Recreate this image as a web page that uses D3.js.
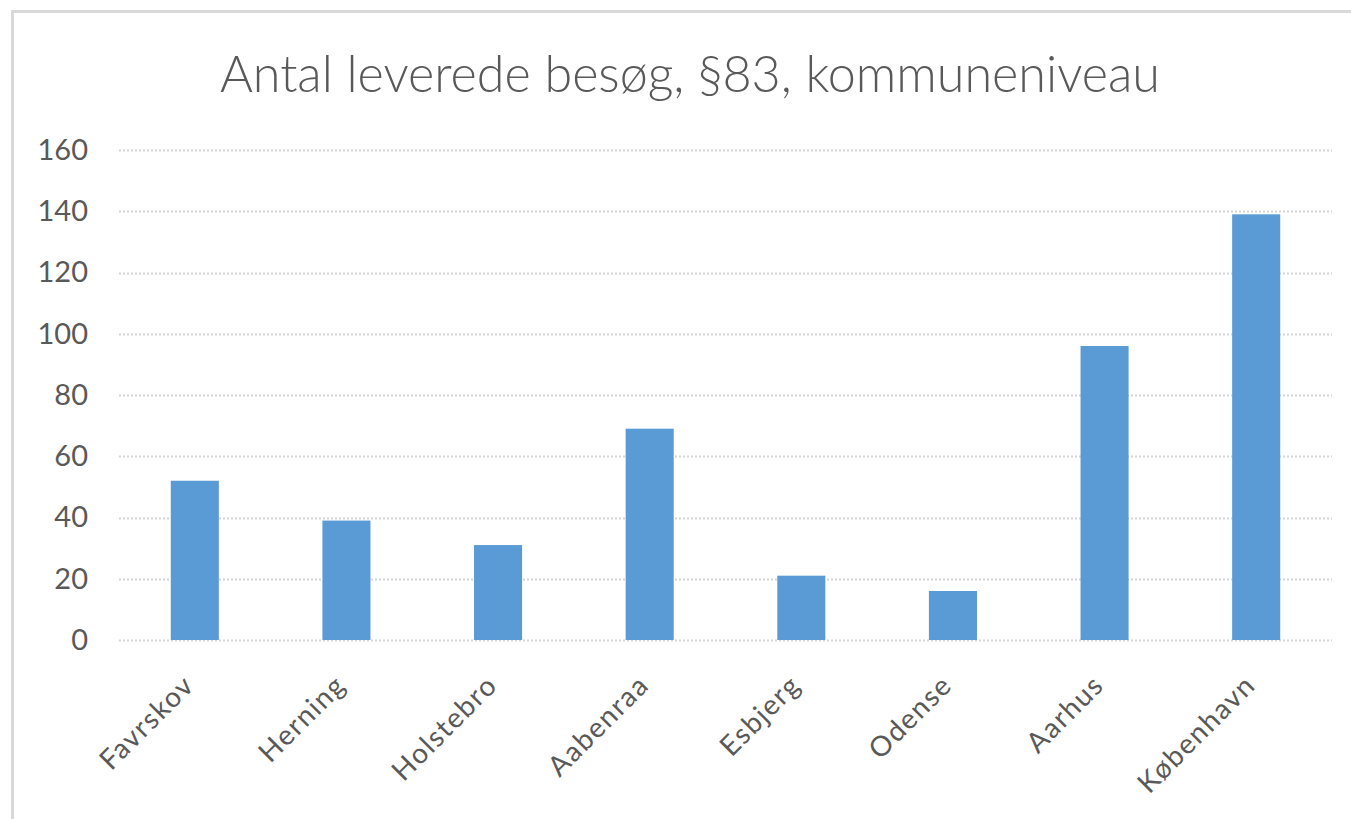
<!DOCTYPE html>
<html>
<head>
<meta charset="utf-8">
<script src="https://cdn.jsdelivr.net/npm/d3@7"></script>
<style>
    body { margin: 0; background: #fff; }
    .grid line { stroke: #d4d4d4; stroke-width: 2; stroke-dasharray: 2,2; }
    .axis text { fill: #595959; font-family: Lato, "Liberation Sans", sans-serif; }
</style>
</head>
<body>
<div id="chart"></div>
<script>
const categories = ["Favrskov", "Herning", "Holstebro", "Aabenraa", "Esbjerg", "Odense", "Aarhus", "København"];
const visits = [52, 39, 31, 69, 21, 16, 96, 139];
const yTicks = [0, 20, 40, 60, 80, 100, 120, 140, 160];
const title = "Antal leverede besøg, §83, kommuneniveau";

const width = 1351;
const height = 819;
const margin = { top: 150, right: 19, bottom: 179, left: 119 };

let svg = d3.select("#chart")
    .append("svg")
    .attr("width", width)
    .attr("height", height);

// chart frame
svg.append("rect")
    .attr("x", 12.5)
    .attr("y", 11.5)
    .attr("width", width)
    .attr("height", height)
    .attr("fill", "none")
    .attr("stroke", "#d9d9d9")
    .attr("stroke-width", 3);

// title
svg.append("text")
    .attr("x", 690)
    .attr("y", 92)
    .attr("text-anchor", "middle")
    .attr("font-family", "Lato, sans-serif")
    .attr("font-weight", 300)
    .attr("font-size", 51)
    .attr("fill", "#595959")
    .attr("textLength", 940)
    .attr("lengthAdjust", "spacingAndGlyphs")
    .text(title);

let x = d3.scaleBand()
    .domain(categories)
    .range([margin.left, width - margin.right])
    .paddingInner(0.683)
    .paddingOuter(0.3415);

let y = d3.scaleLinear()
    .domain([0, 160])
    .range([height - margin.bottom, margin.top]);

// gridlines
svg.append("g")
    .attr("class", "grid")
    .selectAll("line")
    .data(yTicks)
    .join("line")
    .attr("x1", margin.left)
    .attr("x2", width - margin.right)
    .attr("y1", d => Math.round(y(d)) + 0.5)
    .attr("y2", d => Math.round(y(d)) + 0.5);

// y axis labels
let yAxis = svg.append("g")
    .attr("class", "axis")
    .attr("transform", "translate(" + (margin.left - 16) + ",0)")
    .call(d3.axisLeft(y).tickValues(yTicks).tickSize(0).tickPadding(15));
yAxis.select(".domain").remove();
yAxis.selectAll("text").attr("font-size", 29);

// bars
svg.selectAll(".bar")
    .data(visits)
    .join("rect")
    .attr("class", "bar")
    .attr("x", (d, i) => x(categories[i]))
    .attr("y", d => y(d))
    .attr("width", x.bandwidth())
    .attr("height", d => y(0) - y(d))
    .attr("fill", "#5b9bd5");

// x axis labels, rotated
let xAxis = svg.append("g")
    .attr("class", "axis")
    .attr("transform", "translate(0," + (height - margin.bottom) + ")")
    .call(d3.axisBottom(x).tickSize(0).tickPadding(0));
xAxis.select(".domain").remove();
xAxis.selectAll("text")
    .attr("font-size", 28)
    .attr("letter-spacing", "1.5px")
    .attr("text-anchor", "end")
    .attr("dy", "0.35em")
    .attr("transform", "translate(-6,40) rotate(-45)");
</script>
</body>
</html>
